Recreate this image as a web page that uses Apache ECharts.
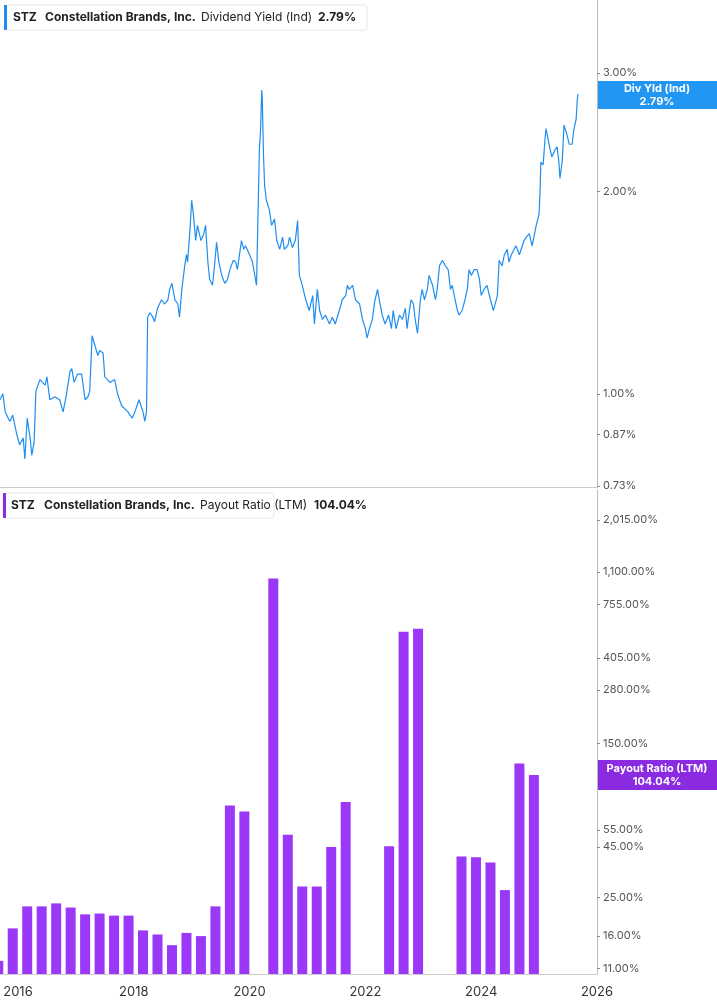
<!DOCTYPE html>
<html>
<head>
<meta charset="utf-8">
<script src="https://cdn.jsdelivr.net/npm/echarts@6/dist/echarts.min.js"></script>
<style>html,body{margin:0;padding:0;background:#fff}#c{width:717px;height:1005px}</style>
</head>
<body>
<div id="c"></div>
<script>
// dividend yield (%), x in decimal years
const yieldYears = [2015.69,2015.74,2015.78,2015.86,2015.91,2015.98,2016.03,2016.09,2016.12,2016.16,2016.21,2016.24,2016.28,2016.31,2016.38,2016.47,2016.5,2016.55,2016.64,2016.72,2016.78,2016.83,2016.9,2016.93,2016.97,2017.03,2017.1,2017.16,2017.21,2017.24,2017.28,2017.33,2017.38,2017.41,2017.47,2017.5,2017.59,2017.67,2017.72,2017.79,2017.9,2017.97,2018.02,2018.09,2018.16,2018.19,2018.22,2018.24,2018.28,2018.33,2018.36,2018.41,2018.48,2018.53,2018.59,2018.62,2018.66,2018.71,2018.76,2018.79,2018.83,2018.88,2018.91,2018.93,2018.97,2019.0,2019.03,2019.07,2019.1,2019.16,2019.21,2019.24,2019.28,2019.31,2019.36,2019.4,2019.43,2019.47,2019.52,2019.57,2019.62,2019.66,2019.72,2019.76,2019.79,2019.86,2019.9,2019.93,2020.0,2020.05,2020.09,2020.12,2020.14,2020.17,2020.19,2020.21,2020.22,2020.24,2020.26,2020.29,2020.34,2020.38,2020.43,2020.47,2020.52,2020.57,2020.6,2020.66,2020.69,2020.74,2020.79,2020.83,2020.86,2020.91,2020.97,2021.03,2021.09,2021.12,2021.17,2021.21,2021.26,2021.31,2021.38,2021.43,2021.48,2021.55,2021.6,2021.66,2021.69,2021.72,2021.78,2021.83,2021.9,2021.95,2022.0,2022.03,2022.07,2022.12,2022.16,2022.21,2022.24,2022.29,2022.34,2022.4,2022.45,2022.48,2022.53,2022.59,2022.64,2022.69,2022.72,2022.76,2022.79,2022.83,2022.86,2022.9,2022.95,2022.98,2023.02,2023.07,2023.1,2023.16,2023.21,2023.24,2023.28,2023.33,2023.38,2023.43,2023.47,2023.5,2023.55,2023.59,2023.62,2023.67,2023.72,2023.76,2023.79,2023.83,2023.88,2023.93,2023.97,2024.0,2024.05,2024.1,2024.16,2024.21,2024.24,2024.28,2024.31,2024.36,2024.4,2024.45,2024.48,2024.52,2024.57,2024.6,2024.66,2024.71,2024.74,2024.78,2024.83,2024.88,2024.91,2024.95,2025.0,2025.02,2025.03,2025.07,2025.1,2025.12,2025.16,2025.19,2025.22,2025.28,2025.31,2025.34,2025.36,2025.4,2025.43,2025.48,2025.52,2025.57,2025.6,2025.64,2025.66,2025.67];
const yieldVals = [0.98,1.00,0.94,0.91,0.93,0.87,0.84,0.86,0.80,0.92,0.86,0.81,0.85,1.01,1.05,1.03,1.06,0.98,0.99,0.98,0.94,0.99,1.08,1.09,1.04,1.07,1.07,0.98,0.99,1.01,1.22,1.18,1.14,1.16,1.15,1.06,1.04,1.05,1.00,0.96,0.94,0.92,0.94,0.98,0.94,0.91,0.94,1.30,1.32,1.30,1.28,1.34,1.38,1.36,1.38,1.43,1.46,1.38,1.36,1.30,1.43,1.55,1.61,1.57,1.75,1.94,1.85,1.69,1.78,1.69,1.73,1.78,1.57,1.48,1.45,1.57,1.68,1.57,1.50,1.46,1.48,1.53,1.58,1.57,1.53,1.69,1.64,1.66,1.61,1.57,1.50,1.45,1.75,2.31,2.47,2.83,2.74,2.27,2.04,1.94,1.88,1.78,1.82,1.69,1.64,1.71,1.64,1.66,1.71,1.65,1.69,1.81,1.50,1.45,1.38,1.33,1.40,1.27,1.43,1.33,1.29,1.31,1.27,1.30,1.27,1.33,1.38,1.40,1.45,1.43,1.45,1.38,1.36,1.29,1.25,1.21,1.25,1.29,1.37,1.43,1.38,1.31,1.27,1.31,1.25,1.33,1.25,1.31,1.29,1.34,1.25,1.33,1.38,1.36,1.29,1.23,1.38,1.43,1.38,1.43,1.50,1.45,1.38,1.43,1.55,1.58,1.55,1.53,1.43,1.45,1.38,1.33,1.31,1.33,1.38,1.43,1.53,1.50,1.53,1.53,1.48,1.40,1.43,1.45,1.38,1.33,1.33,1.40,1.58,1.55,1.61,1.64,1.57,1.61,1.64,1.66,1.61,1.66,1.69,1.71,1.73,1.66,1.66,1.78,1.85,2.04,2.21,2.19,2.38,2.48,2.38,2.31,2.25,2.31,2.33,2.22,2.09,2.22,2.51,2.43,2.35,2.35,2.47,2.56,2.74,2.79];

// payout ratio LTM (%), quarterly (fiscal quarter ends)
const payoutYears = [2015.66,2015.91,2016.16,2016.41,2016.66,2016.91,2017.16,2017.41,2017.66,2017.91,2018.16,2018.41,2018.66,2018.91,2019.16,2019.41,2019.66,2019.91,2020.16,2020.41,2020.66,2020.91,2021.16,2021.41,2021.66,2021.91,2022.16,2022.41,2022.66,2022.91,2023.16,2023.41,2023.66,2023.91,2024.16,2024.41,2024.66,2024.91];
const payoutVals = [12,17.5,22.6,22.6,23.4,22.3,20.6,20.8,20.3,20.3,17.1,16.3,14.4,16.6,16.0,22.6,73,68,null,1020,52,28.5,28.5,45,76,null,null,45.5,550,570,null,null,40.3,40,37.6,27.3,119,104];

const yieldTicks = [0.73,0.87,1.00,2.00,3.00];
const payoutTicks = [11,16,25,45,55,150,280,405,755,1100,2015];
const xTicks = [2016,2018,2020,2022,2024,2026];

const fmt = v => Math.exp(v).toLocaleString('en-US',{minimumFractionDigits:2,maximumFractionDigits:2}) + '%';
const ln = Math.log;

const chart = echarts.init(document.getElementById('c'));
const font = 'Inter, "Noto Sans", sans-serif';
const yAxisBase = {
  type: 'value', position: 'right',
  axisLine: {show: true, onZero: false, lineStyle: {color: '#bbb'}},
  axisTick: {show: true, length: 3, lineStyle: {color: '#888'}},
  splitLine: {show: false},
  axisLabel: {color: '#555', fontSize: 11, fontFamily: font, margin: 6, formatter: fmt}
};
const xBase = {
  type: 'value', min: 2015.69, max: 2026.0,
  axisLine: {show: true, onZero: false, lineStyle: {color: '#ccc'}},
  axisTick: {show: false}, splitLine: {show: false}
};
chart.setOption({
  animation: false,
  grid: [
    {left: 0, right: 120, top: 0, height: 487},
    {left: 0, right: 120, top: 490, height: 484}
  ],
  xAxis: [
    Object.assign({gridIndex: 0, axisLabel: {show: false}}, xBase),
    Object.assign({gridIndex: 1, axisLabel: {show: true, customValues: xTicks, color: '#333', fontSize: 13, fontFamily: font, margin: 12, formatter: v => String(Math.round(v))}}, xBase)
  ],
  yAxis: [
    Object.assign({}, yAxisBase, {gridIndex: 0, min: ln(0.727), max: ln(3.85),
      axisLabel: Object.assign({}, yAxisBase.axisLabel, {customValues: yieldTicks.map(ln)}),
      axisTick: Object.assign({}, yAxisBase.axisTick, {customValues: yieldTicks.map(ln)})}),
    Object.assign({}, yAxisBase, {gridIndex: 1, min: ln(10.3), max: ln(2855),
      axisLabel: Object.assign({}, yAxisBase.axisLabel, {customValues: payoutTicks.map(ln)}),
      axisTick: Object.assign({}, yAxisBase.axisTick, {customValues: payoutTicks.map(ln)})})
  ],
  series: [
    {type: 'line', xAxisIndex: 0, yAxisIndex: 0, showSymbol: false,
     lineStyle: {color: '#1f8ef1', width: 1.2},
     data: yieldYears.map((x, i) => [x, ln(yieldVals[i])])},
    {type: 'bar', xAxisIndex: 1, yAxisIndex: 1, barWidth: 10,
     itemStyle: {color: '#9b37f7'},
     data: payoutYears.map((x, i) => [x, payoutVals[i] == null ? null : ln(payoutVals[i])])}
  ],
  graphic: [
    {type: 'rect', shape: {x: 5, y: 5, width: 362, height: 25, r: 3}, style: {fill: '#fff', stroke: '#e6e6e6'}},
    {type: 'rect', shape: {x: 4, y: 5, width: 3, height: 25}, style: {fill: '#1f8ef1'}},
    {type: 'text', x: 13, y: 11, style: {text: 'STZ', font: 'bold 12px ' + font, fill: '#222'}},
    {type: 'text', x: 45, y: 11, style: {text: 'Constellation Brands, Inc.', font: 'bold 12px ' + font, fill: '#222'}},
    {type: 'text', x: 201, y: 11, style: {text: 'Dividend Yield (Ind)', font: '12px ' + font, fill: '#222'}},
    {type: 'text', x: 318, y: 11, style: {text: '2.79%', font: 'bold 12px ' + font, fill: '#222'}},

    {type: 'rect', shape: {x: 3, y: 493, width: 271, height: 25, r: 3}, style: {fill: '#fff', stroke: '#e6e6e6'}},
    {type: 'rect', shape: {x: 3, y: 493, width: 3, height: 25}, style: {fill: '#8a2be2'}},
    {type: 'text', x: 11, y: 499, style: {text: 'STZ', font: 'bold 12px ' + font, fill: '#222'}},
    {type: 'text', x: 44, y: 499, style: {text: 'Constellation Brands, Inc.', font: 'bold 12px ' + font, fill: '#222'}},
    {type: 'text', x: 200, y: 499, style: {text: 'Payout Ratio (LTM)', font: '12px ' + font, fill: '#222'}},
    {type: 'text', x: 314, y: 499, style: {text: '104.04%', font: 'bold 12px ' + font, fill: '#222'}},

    {type: 'rect', shape: {x: 598, y: 81, width: 119, height: 28}, style: {fill: '#2196f3'}},
    {type: 'text', x: 657, y: 95, style: {text: 'Div Yld (Ind)\n2.79%', font: 'bold 11px ' + font, fill: '#fff', align: 'center', verticalAlign: 'middle', lineHeight: 13}},
    {type: 'rect', shape: {x: 598, y: 760, width: 119, height: 30}, style: {fill: '#8a2be2'}},
    {type: 'text', x: 657, y: 775, style: {text: 'Payout Ratio (LTM)\n104.04%', font: 'bold 11px ' + font, fill: '#fff', align: 'center', verticalAlign: 'middle', lineHeight: 13}}
  ]
});
</script>
</body>
</html>
